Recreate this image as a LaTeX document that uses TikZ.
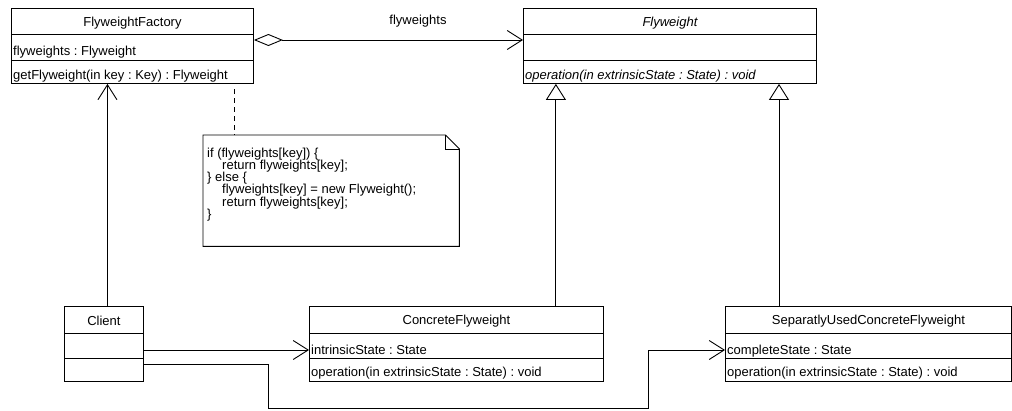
\documentclass[tikz,border=0pt]{standalone}
\usepackage{fontspec}
\setmainfont{Liberation Sans}
\usetikzlibrary{arrows.meta}
\frenchspacing
\begin{document}
\begin{tikzpicture}[x=1pt,y=-1pt,
  every node/.style={font={\fontsize{13}{12.1}\selectfont\frenchspacing\lineskiplimit=-20pt\lineskip=0pt}},
  box/.style={draw, line width=0.9, inner sep=0, anchor=north west},
  lbl/.style={anchor=base west, inner sep=0},
  ttl/.style={anchor=base, inner sep=0},
  conn/.style={line width=0.9},
  assoc/.style={conn, -{Straight Barb[length=15,width=19]}},
  gen/.style={conn, -{Triangle[open,length=16,width=20]}},
  aggr/.style={conn, {Diamond[open,length=29,width=12]}-{Straight Barb[length=15,width=19]}}
]
\useasboundingbox (0,0) rectangle (1012,410);

% FlyweightFactory
\node[box, minimum width=242, minimum height=26] (ff) at (11,8) {};
\node[box, minimum width=242, minimum height=26] (ffa) at (11,34) {};
\node[box, minimum width=242, minimum height=23] (ffo) at (11,60) {};
\node[ttl] (fft) at ([yshift=-18.5]ff.north) {FlyweightFactory};
\node[lbl] (ffat) at ([xshift=2,yshift=-21]ffa.north west) {flyweights : Flyweight};
\node[lbl] (ffot) at ([xshift=2,yshift=-19]ffo.north west) {getFlyweight(in key : Key) : Flyweight};

% Flyweight
\node[box, minimum width=293, minimum height=26] (fw) at (523,8) {};
\node[box, minimum width=293, minimum height=26] (fwa) at (523,34) {};
\node[box, minimum width=293, minimum height=23] (fwo) at (523,60) {};
\node[ttl] (fwt) at ([yshift=-18.5]fw.north) {\itshape Flyweight};
\node[lbl] (fwot) at ([xshift=2,yshift=-19]fwo.north west) {\itshape operation(in extrinsicState : State) : void};

% Client
\node[box, minimum width=79, minimum height=27] (cl) at (64,306) {};
\node[box, minimum width=79, minimum height=25] (cla) at (64,333) {};
\node[box, minimum width=79, minimum height=23] (clo) at (64,358) {};
\node[ttl] (clt) at ([yshift=-19]cl.north) {Client};

% ConcreteFlyweight
\node[box, minimum width=294, minimum height=27] (cf) at (309,306) {};
\node[box, minimum width=294, minimum height=25] (cfa) at (309,333) {};
\node[box, minimum width=294, minimum height=23] (cfo) at (309,358) {};
\node[ttl] (cft) at ([yshift=-18.5]cf.north) {ConcreteFlyweight};
\node[lbl] (cfat) at ([xshift=2,yshift=-21]cfa.north west) {intrinsicState : State};
\node[lbl] (cfot) at ([xshift=2,yshift=-18.5]cfo.north west) {operation(in extrinsicState : State) : void};

% SeparatlyUsedConcreteFlyweight
\node[box, minimum width=286, minimum height=27] (sc) at (725,306) {};
\node[box, minimum width=286, minimum height=25] (sca) at (725,333) {};
\node[box, minimum width=286, minimum height=23] (sco) at (725,358) {};
\node[ttl] (sct) at ([yshift=-18.5]sc.north) {SeparatlyUsedConcreteFlyweight};
\node[lbl] (scat) at ([xshift=2,yshift=-21]sca.north west) {completeState : State};
\node[lbl] (scot) at ([xshift=2,yshift=-18.5]sco.north west) {operation(in extrinsicState : State) : void};

% Note
\node[inner sep=0, minimum width=256, minimum height=111, anchor=north west] (notebox) at (203,135) {};
\draw[conn] (notebox.north west) -- ([xshift=-14]notebox.north east)
  -- ([yshift=-14]notebox.north east) -- (notebox.south east)
  -- (notebox.south west) -- cycle;
\draw[conn] ([xshift=-14]notebox.north east) |- ([yshift=-14]notebox.north east);
\node[anchor=west, inner sep=0, align=left] (notetext) at (207,184.5) {%
if (flyweights[key]) \{\\
\hspace*{15pt}return flyweights[key];\\
\} else \{\\
\hspace*{15pt}flyweights[key] = new Flyweight();\\
\hspace*{15pt}return flyweights[key];\\
\}};
\coordinate (dtop) at (234,89);
\draw[conn, dash pattern=on 5 off 4] (dtop) -- (dtop |- notebox.north);

% Connectors
\draw[aggr] ([yshift=-6]ffa.north east) -- ([yshift=-6]fwa.north west);
\node[ttl] (fwlbl) at (418,24) {flyweights};
\draw[assoc] ([xshift=3.5]cl.north) -- ([xshift=3.5]cl.north |- ffo.south);
\draw[gen] ([xshift=-48]cf.north east) -- ([xshift=-48]cf.north east |- fwo.south);
\draw[gen] ([xshift=54]sc.north west) -- ([xshift=54]sc.north west |- fwo.south);
\draw[assoc] ([yshift=-17]cla.north east) -- ([yshift=-17]cfa.north west);
\coordinate (b1) at (268,408);
\coordinate (b2) at (648,408);
\draw[assoc] ([yshift=-6]clo.north east) -| (b1) -- (b2) |- ([yshift=-17]sca.north west);
\end{tikzpicture}
\end{document}
